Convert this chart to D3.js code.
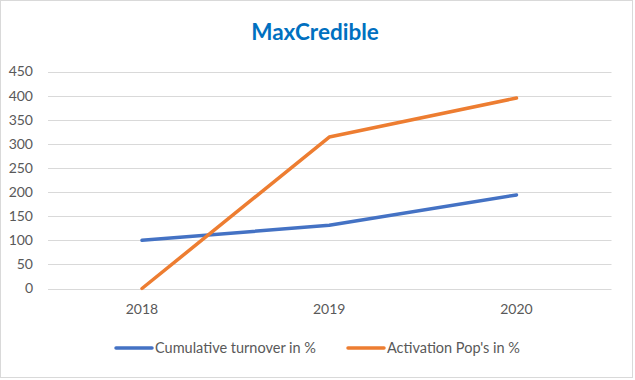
<!DOCTYPE html>
<html><head><meta charset="utf-8">
<script src="https://cdn.jsdelivr.net/npm/d3@7"></script>
<style>body{margin:0;background:#fff}svg{display:block}</style>
</head><body><svg id="c" width="635" height="380"></svg>
<script>
const categories = ["2018","2019","2020"];
const turnover = [100,131,194];
const activation = [0,314,395];
const yTicks = [0,50,100,150,200,250,300,350,400,450];
const seriesNames = ["Cumulative turnover in %","Activation Pop's in %"];
const colors = ["#4472C4","#ED7D31"];

const svg = d3.select("#c");
const font = "Lato, 'Open Sans', sans-serif";
svg.append("rect").attr("x",0.5).attr("y",0.5).attr("width",632).attr("height",377)
  .attr("fill","#fff").attr("stroke","#D9D9D9");

const x = d3.scalePoint().domain(categories).range([142,516.5]);
const y = d3.scaleLinear().domain([0,450]).range([288.5,71.5]);

const grid = svg.append("g");
yTicks.forEach(t=>{
  grid.append("line").attr("x1",48).attr("x2",611.5).attr("y1",Math.round(y(t))+0.5).attr("y2",Math.round(y(t))+0.5)
    .attr("stroke","#D9D9D9").attr("stroke-width",1);
  grid.append("text").attr("x",33).attr("y",y(t)).attr("dy","0.35em").attr("text-anchor","end")
    .attr("font-family",font).attr("font-size",14).attr("fill","#595959").text(t);
});
categories.forEach(c=>{
  svg.append("text").attr("x",x(c)).attr("y",314).attr("text-anchor","middle")
    .attr("font-family",font).attr("font-size",14).attr("fill","#595959").text(c);
});

const line = d3.line().x((d,i)=>x(categories[i])).y(d=>y(d));
[turnover,activation].forEach((s,i)=>{
  svg.append("path").attr("d",line(s)).attr("fill","none").attr("stroke",colors[i])
    .attr("stroke-width",3.5).attr("stroke-linecap","round").attr("stroke-linejoin","round");
});

svg.append("text").attr("x",315).attr("y",40).attr("text-anchor","middle")
  .attr("font-family",font).attr("font-weight","bold").attr("font-size",22.5).attr("fill","#0070C0").text("MaxCredible");

const legendX = [116,348];
seriesNames.forEach((n,i)=>{
  svg.append("line").attr("x1",legendX[i]).attr("x2",legendX[i]+36).attr("y1",348).attr("y2",348)
    .attr("stroke",colors[i]).attr("stroke-width",3.5).attr("stroke-linecap","round");
  svg.append("text").attr("x",legendX[i]+39).attr("y",348).attr("dy","0.35em")
    .attr("font-family",font).attr("font-size",14.5).attr("fill","#595959").text(n);
});
</script></body></html>
